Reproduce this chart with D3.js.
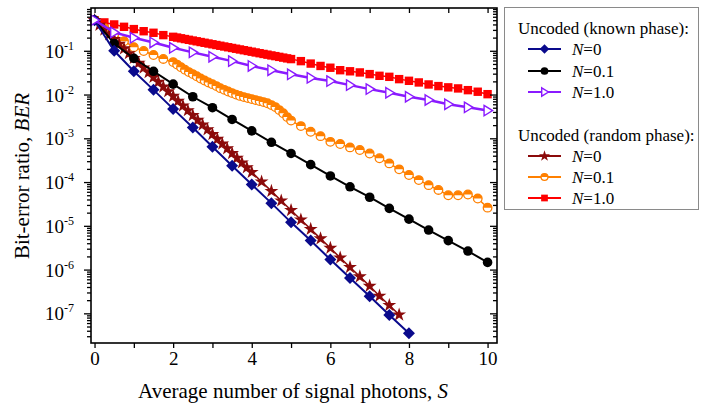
<!DOCTYPE html>
<html><head><meta charset="utf-8">
<script src="https://cdn.jsdelivr.net/npm/d3@7"></script>
<style>body{margin:0;background:#fff}svg{display:block}</style>
</head><body>
<svg id="c" width="708" height="407"></svg>
<script>
// ---------- data ----------
const xTicks = [0,1,2,3,4,5,6,7,8,9,10];
const xLabels = ["0","","2","","4","","6","","8","","10"];
const yExps = [-1,-2,-3,-4,-5,-6,-7];

// Uncoded (known phase)
const knownN0_S = d3.range(0, 8.001, 0.5);
const knownN0 = [0.5,0.1,0.034,0.0128,0.0047,1.76e-3,6.4e-4,2.35e-4,8.8e-5,3.3e-5,1.2e-5,4.6e-6,1.7e-6,6.4e-7,2.45e-7,9.2e-8,3.5e-8];
const knownN01_S = d3.range(0, 10.001, 0.5);
const knownN01 = [0.5,0.147,0.067,0.034,0.0173,8.9e-3,5.0e-3,2.7e-3,1.48e-3,8.1e-4,4.5e-4,2.5e-4,1.38e-4,7.8e-5,4.5e-5,2.5e-5,1.42e-5,8.0e-6,4.6e-6,2.65e-6,1.46e-6];
const knownN1_S = d3.range(0, 10.001, 0.5);
const knownN1 = [0.5,0.263,0.198,0.155,0.117,0.092,0.073,0.058,0.045,0.036,0.029,0.024,0.0203,0.0164,0.0133,0.011,0.0089,0.0075,0.006,0.0051,0.0043];

// Uncoded (random phase)
const randN0_S = d3.range(0, 4.001, 0.125).concat(d3.range(4.25, 7.751, 0.25));
const randN0 = [0.5,0.389,0.303,0.236,0.184,0.143,0.112,0.087,0.0677,0.0527,0.041,0.032,0.0249,0.0194,0.0151,0.0118,
  0.0092,0.0071,0.00555,0.00433,0.00337,0.00262,0.00204,0.00159,0.00124,9.6e-4,7.5e-4,5.85e-4,4.56e-4,3.55e-4,2.77e-4,2.15e-4,1.68e-4,
  1.02e-4,6.2e-5,3.75e-5,2.27e-5,1.38e-5,8.4e-6,5.1e-6,3.1e-6,1.86e-6,1.13e-6,6.9e-7,4.2e-7,2.5e-7,1.53e-7,9.3e-8];
const denseS = d3.range(20, 50.5, 1).map(k => k / 10);
const randN01_S = [0,0.25,0.5,0.75,1,1.25,1.5,1.75].concat(denseS, d3.range(5.25, 10.001, 0.25));
const randN01 = [0.5,0.33,0.24,0.166,0.121,0.099,0.08,0.065,
  0.0551,0.0483,0.0423,0.0371,0.0326,0.0293,0.0261,0.0232,0.0209,0.0189,0.0173,0.0156,0.014,0.0128,0.0117,0.0108,
  0.00997,0.00931,0.00875,0.0083,0.00787,0.00746,0.00708,0.00672,0.00631,0.00574,0.00516,0.00441,0.00376,0.00305,0.00254,
  1.9e-3,1.41e-3,1.12e-3,8.3e-4,7.4e-4,6.2e-4,5.4e-4,4.5e-4,3.5e-4,2.67e-4,1.95e-4,1.45e-4,1.11e-4,8.5e-5,6.6e-5,5.0e-5,5.0e-5,5.2e-5,4.2e-5,2.6e-5];
const randN1_S = [0,0.25,0.5,0.75,1,1.25,1.5,1.75].concat(denseS, d3.range(5.25, 10.001, 0.25));
const randN1 = [0.5,0.445,0.4,0.353,0.313,0.28,0.258,0.228,
  0.2085,0.2005,0.1928,0.1854,0.1782,0.1714,0.1648,0.1585,0.1524,0.1466,0.1409,0.1355,0.1303,0.1253,0.1205,0.1159,
  0.1114,0.1072,0.103,0.0991,0.0953,0.0916,0.0881,0.0847,0.0815,0.0783,0.0755,0.0726,0.0698,0.0671,0.0646,
  0.058,0.051,0.045,0.041,0.036,0.034,0.032,0.0293,0.0268,0.0254,0.0225,0.0206,0.0189,0.017,0.0156,0.0146,0.0138,0.0126,0.0116,0.0102];

const seriesNames = ["N=0","N=0.1","N=1.0"];
const legendTitles = ["Uncoded (known phase):","Uncoded (random phase):"];

// ---------- layout ----------
const svg = d3.select("#c");
const FONT = "'Liberation Serif','Times New Roman',serif";
const L = 91, R = 497, T = 8, B = 343;
const x = d3.scaleLinear().domain([-0.09, 10.24]).range([L, R]);
const y = d3.scaleLog().domain([0.95, 2.1e-8]).range([T, B]);

// markers
function drawMarker(g, type, color, s) {
  s = s || 1;
  if (type === "diamond") {
    g.append("path").attr("d", `M0,${-6*s}L${6*s},0L0,${6*s}L${-6*s},0Z`).attr("fill", color);
  } else if (type === "circle") {
    g.append("circle").attr("r", 4.8*s).attr("fill", color);
  } else if (type === "tri") {
    g.append("path").attr("d", `M${-3.5*s},${-5.2*s}L${5*s},0L${-3.5*s},${5.2*s}Z`)
      .attr("fill", "#fff").attr("stroke", color).attr("stroke-width", 1.4);
  } else if (type === "star") {
    g.append("path").attr("d", d3.symbol(d3.symbolStar, 60*s*s)()).attr("fill", color);
  } else if (type === "half") {
    const r = 4.3*s;
    g.append("circle").attr("r", r).attr("fill", "#fff").attr("stroke", color).attr("stroke-width", 1.3);
    g.append("path").attr("d", `M${-r},0A${r},${r} 0 0 1 ${r},0Z`).attr("fill", color);
  } else if (type === "square") {
    g.append("rect").attr("x", -4.2*s).attr("y", -4.2*s).attr("width", 8.4*s).attr("height", 8.4*s).attr("fill", color);
  }
}

const series = [
  {S: randN1_S, v: randN1, color: "#ff0000", type: "square", lw: 1.5},
  {S: randN01_S, v: randN01, color: "#ff8000", type: "half", lw: 1.5},
  {S: randN0_S, v: randN0, color: "#8b0a0a", type: "star", lw: 1.5},
  {S: knownN01_S, v: knownN01, color: "#000000", type: "circle", lw: 2},
  {S: knownN0_S, v: knownN0, color: "#0a0a8c", type: "diamond", lw: 2},
  {S: knownN1_S, v: knownN1, color: "#8a1aff", type: "tri", lw: 2.5},
];

const line = d3.line().x(d => x(d[0])).y(d => y(d[1]));
series.forEach(sr => {
  const pts = sr.S.map((s, i) => [s, sr.v[i]]);
  const g = svg.append("g");
  g.append("path").attr("d", line(pts)).attr("fill", "none").attr("stroke", sr.color).attr("stroke-width", sr.lw);
  pts.forEach(p => {
    const mg = g.append("g").attr("transform", `translate(${x(p[0])},${y(p[1])})`);
    drawMarker(mg, sr.type, sr.color);
  });
});

// ---------- axes ----------
const minorVals = [];
for (let e = -8; e <= -1; e++) for (let m = 1; m <= 9; m++) {
  const v = m * Math.pow(10, e);
  if (v >= 2.1e-8 && v <= 0.95) minorVals.push(v);
}
const isMajor = v => Math.abs(Math.log10(v) - Math.round(Math.log10(v))) < 1e-9;

// bottom
const gb = svg.append("g").attr("transform", `translate(0,${B})`)
  .call(d3.axisBottom(x).tickValues(xTicks).tickSize(5).tickFormat((d, i) => xLabels[i]));
// top (inward)
const gt = svg.append("g").attr("transform", `translate(0,${T})`)
  .call(d3.axisBottom(x).tickValues(xTicks).tickSize(5).tickFormat(""));
// left (outward)
const gl = svg.append("g").attr("transform", `translate(${L},0)`)
  .call(d3.axisLeft(y).tickValues(minorVals).tickSize(4).tickFormat(""));
gl.selectAll(".tick line").filter(d => isMajor(d)).attr("x2", -7);
// right (inward)
const gr = svg.append("g").attr("transform", `translate(${R},0)`)
  .call(d3.axisLeft(y).tickValues(minorVals).tickSize(4).tickFormat(""));
gr.selectAll(".tick line").filter(d => isMajor(d)).attr("x2", -7);

[gb, gt, gl, gr].forEach(g => {
  g.select(".domain").remove();
  g.selectAll(".tick line").attr("stroke", "#000").attr("stroke-width", 1.3);
});
gb.selectAll(".tick text").attr("font-family", FONT).attr("font-size", 19).attr("fill", "#000").attr("dy", "0.95em").attr("y", 4);

svg.append("rect").attr("x", L).attr("y", T).attr("width", R - L).attr("height", B - T)
  .attr("fill", "none").attr("stroke", "#000").attr("stroke-width", 1.6);

// y tick labels
yExps.forEach(e => {
  const t = svg.append("text").attr("x", 45).attr("y", y(Math.pow(10, e)) + 7)
    .attr("font-family", FONT).attr("font-size", 19).attr("text-anchor", "start").attr("fill", "#000");
  t.append("tspan").text("10");
  t.append("tspan").attr("font-size", 12).attr("dy", -8).text(String(e));
});

// axis titles
const xt = svg.append("text").attr("x", 293).attr("y", 398).attr("text-anchor", "middle")
  .attr("font-family", FONT).attr("font-size", 21).attr("fill", "#000");
xt.append("tspan").text("Average number of signal photons, ");
xt.append("tspan").attr("font-style", "italic").text("S");

const yt = svg.append("text").attr("transform", "translate(29,176) rotate(-90)").attr("text-anchor", "middle")
  .attr("font-family", FONT).attr("font-size", 21).attr("fill", "#000");
yt.append("tspan").text("Bit-error ratio, ");
yt.append("tspan").attr("font-style", "italic").text("BER");

// ---------- legend ----------
const lg = svg.append("g");
lg.append("rect").attr("x", 504.5).attr("y", 7.5).attr("width", 194).attr("height", 202)
  .attr("fill", "#fff").attr("stroke", "#8a8a8a").attr("stroke-width", 1);
const legRows = [
  {title: legendTitles[0], cy: 28},
  {name: seriesNames[0], s: series[4], cy: 49},
  {name: seriesNames[1], s: series[3], cy: 71},
  {name: seriesNames[2], s: series[5], cy: 92},
  {title: legendTitles[1], cy: 135},
  {name: seriesNames[0], s: series[2], cy: 156},
  {name: seriesNames[1], s: series[1], cy: 177},
  {name: seriesNames[2], s: series[0], cy: 198},
];
legRows.forEach(r => {
  if (r.title) {
    lg.append("text").attr("x", 518).attr("y", r.cy + 6).attr("font-family", FONT).attr("font-size", 17)
      .attr("fill", "#000").text(r.title);
  } else {
    lg.append("line").attr("x1", 528).attr("x2", 561).attr("y1", r.cy).attr("y2", r.cy)
      .attr("stroke", r.s.color).attr("stroke-width", 2);
    drawMarker(lg.append("g").attr("transform", `translate(544.5,${r.cy})`), r.s.type, r.s.color, 0.8);
    const t = lg.append("text").attr("x", 572).attr("y", r.cy + 6).attr("font-family", FONT).attr("font-size", 17).attr("fill", "#000");
    t.append("tspan").attr("font-style", "italic").text("N");
    t.append("tspan").text(r.name.slice(1));
  }
});
</script>
</body></html>
